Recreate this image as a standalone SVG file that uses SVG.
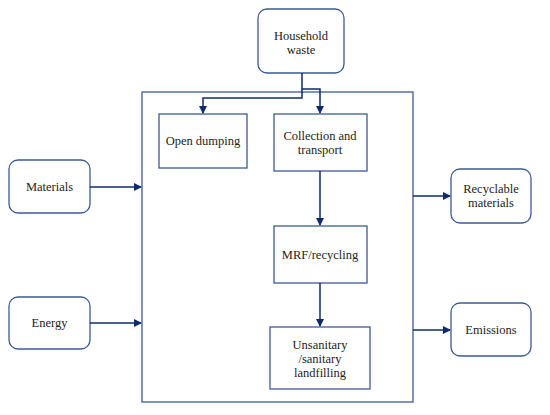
<svg xmlns="http://www.w3.org/2000/svg" width="550" height="415" viewBox="0 0 550 415">
<style>
.box{fill:#fff;stroke:#3b5a9a;stroke-width:1.3}
.t{font-family:"Liberation Serif","DejaVu Serif",serif;font-size:12.5px;fill:#222;text-anchor:middle}
.c{fill:none;stroke:#0e2a6e;stroke-width:1.5}
</style>
<defs>
<marker id="ah" markerWidth="8" markerHeight="8" refX="7" refY="4" orient="auto" markerUnits="userSpaceOnUse">
<path d="M0,0 L8,4 L0,8 Z" fill="#0e2a6e"/>
</marker>
</defs>
<rect width="550" height="415" fill="#fff"/>
<g id="system"><rect class="box" x="142" y="92" width="271" height="310"/></g>
<g id="household"><rect class="box" x="258" y="9" width="86" height="64" rx="9"/><text class="t" x="301" y="40">Household</text><text class="t" x="301" y="54">waste</text></g>
<g id="open-dumping"><rect class="box" x="159" y="114" width="88" height="54"/><text class="t" x="203" y="145">Open dumping</text></g>
<g id="collection"><rect class="box" x="274" y="114" width="93" height="57"/><text class="t" x="320" y="140">Collection and</text><text class="t" x="320" y="154">transport</text></g>
<g id="mrf"><rect class="box" x="274" y="226" width="93" height="57"/><text class="t" x="320" y="259">MRF/recycling</text></g>
<g id="landfill"><rect class="box" x="270" y="327" width="100" height="62"/><text class="t" x="320" y="349">Unsanitary</text><text class="t" x="320" y="363">/sanitary</text><text class="t" x="320" y="377">landfilling</text></g>
<g id="materials"><rect class="box" x="9" y="160" width="81" height="53" rx="9"/><text class="t" x="49.5" y="191">Materials</text></g>
<g id="energy"><rect class="box" x="9" y="297" width="81" height="52" rx="9"/><text class="t" x="49.5" y="327">Energy</text></g>
<g id="recyclable"><rect class="box" x="451" y="169" width="80" height="54" rx="9"/><text class="t" x="491" y="193">Recyclable</text><text class="t" x="491" y="207">materials</text></g>
<g id="emissions"><rect class="box" x="451" y="303" width="80" height="53" rx="9"/><text class="t" x="491" y="334">Emissions</text></g>
<g id="connectors">
<path class="c" d="M302,73 V89 H320 V113" marker-end="url(#ah)"/>
<path class="c" d="M302,89 V98 H203 V113" marker-end="url(#ah)"/>
<path class="c" d="M320,171 V225" marker-end="url(#ah)"/>
<path class="c" d="M320,283 V326" marker-end="url(#ah)"/>
<path class="c" d="M90,187 H141" marker-end="url(#ah)"/>
<path class="c" d="M90,323 H141" marker-end="url(#ah)"/>
<path class="c" d="M413,196 H450" marker-end="url(#ah)"/>
<path class="c" d="M413,330 H450" marker-end="url(#ah)"/>
</g>
</svg>
